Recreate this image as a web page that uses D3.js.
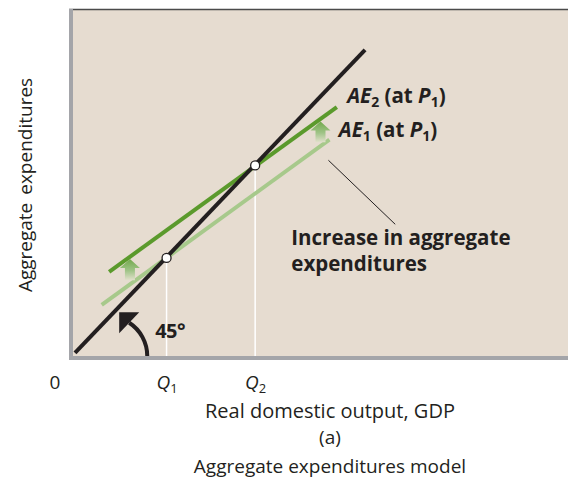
<!DOCTYPE html>
<html>
<head>
<meta charset="utf-8">
<script src="https://cdn.jsdelivr.net/npm/d3@7"></script>
<style>
  body { margin: 0; background: #fff; }
  text { font-family: 'Open Sans', Lato, sans-serif; fill: #231f20; }
</style>
</head>
<body>
<div id="chart"></div>
<script>
// values (abstract output / expenditure units)
const line45 = [[0.4, 0.6], [59, 59.3]];
const ae1 = [[5.8, 9.9], [51.8, 41.9]];
const ae2 = [[7.3, 16.3], [53.3, 48.2]];
const equilibria = [[18.9, 19.0], [36.8, 36.9]];
const qTicks = [18.9, 36.8];
const qSubs = ['1', '2'];
// x, from (AE1), to (AE2)
const shiftArrows = [[11.5, 13.9, 19.0], [50, 40.6, 45.6]];

const width = 568, height = 481;
const margin = {top: 10, right: 0, bottom: 125, left: 73};

const svg = d3.select('#chart').append('svg')
    .attr('width', width)
    .attr('height', height);

const x = d3.scaleLinear().domain([0, 100]).range([margin.left, width - margin.right]);
const y = d3.scaleLinear().domain([0, 67]).range([height - margin.bottom, margin.top]);

const defs = svg.append('defs');
const grad = defs.append('linearGradient')
    .attr('id', 'arrowFade')
    .attr('x1', 0).attr('y1', 0).attr('x2', 0).attr('y2', 1);
grad.append('stop').attr('offset', '0%').attr('stop-color', '#72a84c');
grad.append('stop').attr('offset', '55%').attr('stop-color', '#9fc487');
grad.append('stop').attr('offset', '100%').attr('stop-color', '#e2e0cc');

// panel background
svg.append('rect')
    .attr('x', x(0)).attr('y', y(67))
    .attr('width', x(100) - x(0))
    .attr('height', y(0) - y(67))
    .attr('fill', '#e6dcd0');

// top border
svg.append('line')
    .attr('x1', x(0) - 4).attr('x2', x(100))
    .attr('y1', y(67) - 0.5).attr('y2', y(67) - 0.5)
    .attr('stroke', '#4a4a4a')
    .attr('stroke-width', 1.5);

// white drop lines to Q1, Q2
svg.selectAll('line.drop')
    .data(equilibria)
    .enter().append('line')
    .attr('class', 'drop')
    .attr('x1', d => x(d[0])).attr('x2', d => x(d[0]))
    .attr('y1', d => y(d[1])).attr('y2', y(0))
    .attr('stroke', '#fff')
    .attr('stroke-width', 1.5);

const lineGen = d3.line().x(d => x(d[0])).y(d => y(d[1]));

svg.append('path').datum(ae1)
    .attr('d', lineGen)
    .attr('stroke', '#a7c98b')
    .attr('stroke-width', 4)
    .attr('fill', 'none');

svg.append('path').datum(ae2)
    .attr('d', lineGen)
    .attr('stroke', '#5b9a2c')
    .attr('stroke-width', 4)
    .attr('fill', 'none');

svg.append('path').datum(line45)
    .attr('d', lineGen)
    .attr('stroke', '#231f20')
    .attr('stroke-width', 4)
    .attr('fill', 'none');

// 45 degree arc with arrowhead
const arcCx = x(7), arcCy = y(0), arcR = x(8) - x(0);
const endDeg = 57;
const arc = d3.arc()
    .innerRadius(arcR - 2)
    .outerRadius(arcR + 2)
    .startAngle(Math.PI / 2 - endDeg * Math.PI / 180)
    .endAngle(Math.PI / 2);
svg.append('path')
    .attr('d', arc())
    .attr('transform', 'translate(' + arcCx + ',' + arcCy + ')')
    .attr('fill', '#231f20');

const bx = arcCx + arcR * Math.cos(endDeg * Math.PI / 180);
const by = arcCy - arcR * Math.sin(endDeg * Math.PI / 180);
svg.append('path')
    .attr('d', 'M' + (bx - 10) + ',' + (by - 10.5) +
               'L' + (bx + 10) + ',' + (by - 10.5) +
               'L' + (bx - 10) + ',' + (by + 10.5) + 'Z')
    .attr('fill', '#231f20');

svg.append('text')
    .attr('x', x(16.6))
    .attr('y', y(3.4))
    .style('font-size', '20px')
    .style('font-weight', 700)
    .style('letter-spacing', '-0.5px')
    .text('45°');

// shift arrows
svg.selectAll('path.shift')
    .data(shiftArrows)
    .enter().append('path')
    .attr('class', 'shift')
    .attr('d', function (d) {
        const cx = x(d[0]);
        const top = y(d[2]) + 1;
        const bottom = y(d[1]) - 4;
        const headBase = top + 9;
        return 'M' + cx + ',' + top +
            'L' + (cx + 10) + ',' + headBase +
            'L' + (cx + 5) + ',' + headBase +
            'L' + (cx + 5) + ',' + bottom +
            'L' + (cx - 5) + ',' + bottom +
            'L' + (cx - 5) + ',' + headBase +
            'L' + (cx - 10) + ',' + headBase + 'Z';
    })
    .attr('fill', 'url(#arrowFade)');

// equilibrium points
svg.selectAll('circle.eq')
    .data(equilibria)
    .enter().append('circle')
    .attr('class', 'eq')
    .attr('cx', d => x(d[0]))
    .attr('cy', d => y(d[1]))
    .attr('r', 4.5)
    .attr('fill', '#fff')
    .attr('stroke', '#231f20')
    .attr('stroke-width', 1.3);

// axes (gray bands)
const xAxis = svg.append('g')
    .attr('transform', 'translate(0,' + (y(0) + 2) + ')')
    .call(d3.axisBottom(x).tickValues(qTicks).tickSize(0).tickSizeOuter(0).tickPadding(14).tickFormat(''));
xAxis.select('.domain')
    .attr('stroke', '#a4a5a9')
    .attr('stroke-width', 4)
    .attr('d', 'M' + (x(0) - 4) + ',0H' + x(100));
xAxis.selectAll('.tick text')
    .attr('dy', '0.9em')
    .style('font-size', '19px')
    .attr('text-anchor', 'middle')
    .each(function (d, i) {
        const t = d3.select(this);
        t.append('tspan').style('font-style', 'italic').text('Q');
        t.append('tspan').style('font-size', '13px').attr('dy', 4).text(qSubs[i]);
    });

const yAxis = svg.append('g')
    .attr('transform', 'translate(' + (x(0) - 2) + ',0)')
    .call(d3.axisLeft(y).tickValues([]).tickSizeOuter(0));
yAxis.select('.domain')
    .attr('stroke', '#a4a5a9')
    .attr('stroke-width', 4)
    .attr('d', 'M0,' + (y(67) - 1) + 'V' + (y(0) + 4));

svg.append('text')
    .attr('x', x(0) - 18)
    .attr('y', y(0) + 33)
    .attr('text-anchor', 'middle')
    .style('font-size', '19px')
    .text('0');

// curve labels
function aeLabel(px, py, sub) {
    const t = svg.append('text')
        .attr('x', px).attr('y', py)
        .style('font-size', '20.5px')
        .style('font-weight', 700);
    t.append('tspan').style('font-style', 'italic').text('AE');
    t.append('tspan').style('font-size', '14px').attr('dy', 4).text(sub);
    t.append('tspan').attr('dy', -4).text(' (at ');
    t.append('tspan').style('font-style', 'italic').text('P');
    t.append('tspan').style('font-size', '14px').attr('dy', 4).text('1');
    t.append('tspan').attr('dy', -4).text(')');
}
aeLabel(x(55.4), y(49.0), '2');
aeLabel(x(53.7), y(42.5), '1');

// leader line and annotation
svg.append('line')
    .attr('x1', x(51.6)).attr('y1', y(37.9))
    .attr('x2', x(65.1)).attr('y2', y(25.5))
    .attr('stroke', '#231f20')
    .attr('stroke-width', 1);

const note = svg.append('text')
    .attr('x', x(44.1))
    .attr('y', y(21.4))
    .style('font-size', '20.5px')
    .style('font-weight', 700);
note.append('tspan').text('Increase in aggregate');
note.append('tspan').attr('x', x(44.1)).attr('dy', 26).text('expenditures');

// axis titles and caption
svg.append('text')
    .attr('transform', 'translate(32,185) rotate(-90)')
    .attr('text-anchor', 'middle')
    .style('font-size', '19px')
    .style('word-spacing', '3px')
    .text('Aggregate expenditures');

svg.append('text')
    .attr('x', 330).attr('y', 418)
    .attr('text-anchor', 'middle')
    .style('font-size', '20px')
    .text('Real domestic output, GDP');

svg.append('text')
    .attr('x', 330).attr('y', 444)
    .attr('text-anchor', 'middle')
    .style('font-size', '19px')
    .text('(a)');

svg.append('text')
    .attr('x', 330).attr('y', 473)
    .attr('text-anchor', 'middle')
    .style('font-size', '19px')
    .text('Aggregate expenditures model');
</script>
</body>
</html>
